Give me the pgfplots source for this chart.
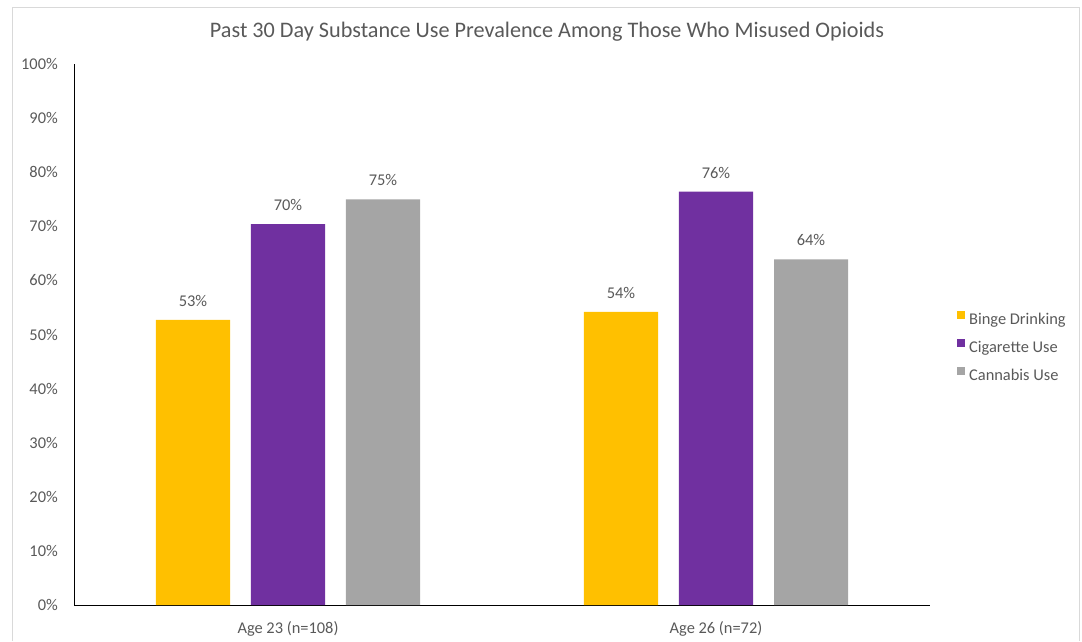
\documentclass[border=0pt]{standalone}
\usepackage{pgfplots}
\pgfplotsset{compat=1.18}
\usepackage{fontspec}
\setmainfont{Carlito}
\definecolor{cyel}{HTML}{FFC000}
\definecolor{cpur}{HTML}{7030A0}
\definecolor{cgry}{HTML}{A5A5A5}
\definecolor{ctxt}{HTML}{595959}
\begin{document}
\begin{tikzpicture}[x=1pt,y=1pt]
\useasboundingbox (0,0) rectangle (1082,-641);
\draw[color=black!15, line width=1pt] (12.5,-641) -- (12.5,-7.5) -- (1079.5,-7.5) -- (1079.5,-641);
\node[text=ctxt, font=\fontsize{22.2}{26}\selectfont, inner sep=0pt] at (547,-32) {Past 30 Day Substance Use Prevalence Among Those Who Misused Opioids};
\begin{axis}[
  at={(74pt,-605pt)}, anchor=south west,
  scale only axis, width=856pt, height=541pt,
  xmin=-0.5, xmax=1.5, ymin=0, ymax=100,
  axis lines*=left,
  axis line style={black, line width=1pt},
  major tick length=0pt,
  ytick={0,10,...,100},
  yticklabel={\pgfmathprintnumber{\tick}\%},
  xtick={0,1},
  xticklabels={Age 23 (n=108), Age 26 (n=72)},
  tick label style={text=ctxt, font=\fontsize{16.4}{19}\selectfont, inner sep=0pt},
  yticklabel style={anchor=east, xshift=-16pt},
  xticklabel style={anchor=north, yshift=-16pt},
  /pgf/number format/assume math mode=true,
  ybar, bar width=0.173,
  nodes near coords={\pgfmathprintnumber[fixed,precision=0]{\pgfplotspointmeta}\%},
  every node near coord/.append style={text=ctxt, font=\fontsize{16.4}{19}\selectfont, anchor=south, inner sep=0pt, yshift=13pt},
  legend style={at={(1.0315,0.4787)}, anchor=west, draw=none, fill=none, inner sep=0pt,
    font=\fontsize{16.4}{19}\selectfont, text=ctxt, row sep=14.5pt, column sep=4pt,
    nodes={inner sep=0pt, text height=11pt, text depth=0pt}},
  legend cell align=left,
  legend image code/.code={\fill[#1,draw=none] (0pt,0pt) rectangle (8pt,8pt);},
  clip=false,
]
\addplot[fill=cyel, draw=none, bar shift=-0.222] coordinates {(0,52.7) (1,54.2)};
\addplot[fill=cpur, draw=none, bar shift=0] coordinates {(0,70.4) (1,76.4)};
\addplot[fill=cgry, draw=none, bar shift=0.222] coordinates {(0,75.0) (1,63.9)};
\legend{Binge Drinking, Cigarette Use, Cannabis Use}
\end{axis}
\end{tikzpicture}
\end{document}
